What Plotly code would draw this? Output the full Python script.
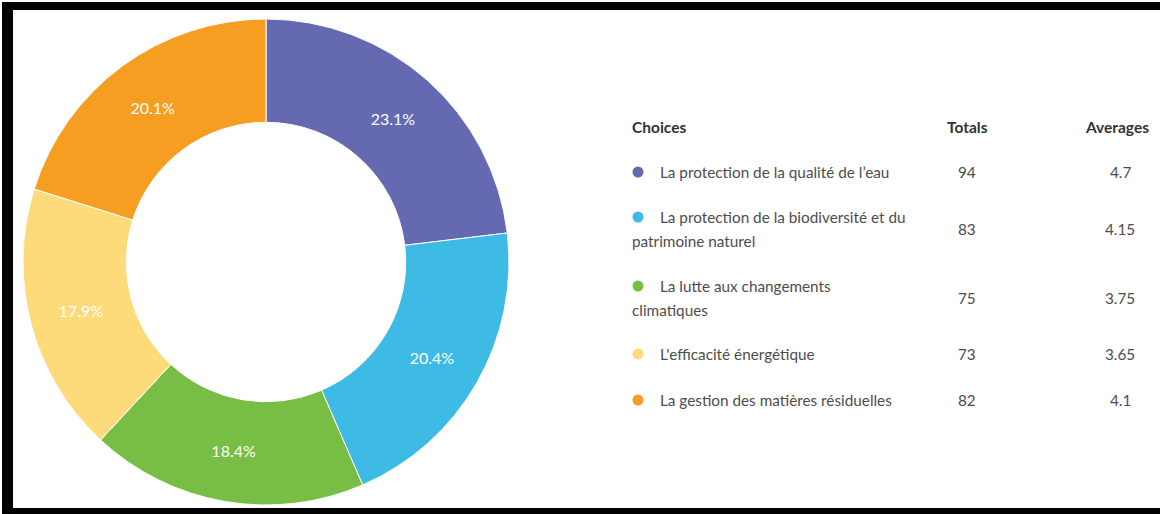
import plotly.graph_objects as go

choices = [
    "La protection de la qualité de l’eau",
    "La protection de la biodiversité et du patrimoine naturel",
    "La lutte aux changements climatiques",
    "L'efficacité énergétique",
    "La gestion des matières résiduelles",
]
choice_lines = [
    ["La protection de la qualité de l’eau"],
    ["La protection de la biodiversité et du", "patrimoine naturel"],
    ["La lutte aux changements", "climatiques"],
    ["L'efficacité énergétique"],
    ["La gestion des matières résiduelles"],
]
totals = [94, 83, 75, 73, 82]
averages = ["4.7", "4.15", "3.75", "3.65", "4.1"]
colors = ["#6469B1", "#3DBBE5", "#78BE44", "#FEDB7A", "#F59E21"]
headers = ["Choices", "Totals", "Averages"]

W, H = 1160, 514
FONT = "Lato, 'Open Sans', sans-serif"

def px(x):
    return x / W

def py(y):
    return 1 - y / H

fig = go.Figure()
fig.add_trace(go.Pie(
    labels=choices,
    values=totals,
    marker=dict(colors=colors, line=dict(color="white", width=1)),
    hole=0.575,
    sort=False,
    direction="clockwise",
    rotation=0,
    texttemplate="%{percent:.1%}",
    textposition="inside",
    insidetextorientation="horizontal",
    textfont=dict(family=FONT, size=16, color="white"),
    showlegend=False,
    hoverinfo="label+value+percent",
    domain=dict(x=[px(23), px(509)], y=[py(505), py(19)]),
))

annotations = []
shapes = []

HEAD_SIZE = 15.5
BODY_SIZE = 15.3
header_y = 127
head_font = dict(family=FONT, size=HEAD_SIZE, color="#333333")
annotations.append(dict(x=px(630), y=py(header_y), xref="paper", yref="paper",
                        text="<b>" + headers[0] + "</b>", showarrow=False,
                        xanchor="left", yanchor="middle", font=head_font))
annotations.append(dict(x=px(967), y=py(header_y), xref="paper", yref="paper",
                        text="<b>" + headers[1] + "</b>", showarrow=False,
                        xanchor="center", yanchor="middle", font=head_font))
annotations.append(dict(x=px(1117), y=py(header_y), xref="paper", yref="paper",
                        text="<b>" + headers[2] + "</b>", showarrow=False,
                        xanchor="center", yanchor="middle", font=head_font))

row_first_line_y = [172, 217, 286, 354, 400]
line_gap = 23.5
body_color = "#4d4d4d"
body_font = dict(family=FONT, size=BODY_SIZE, color=body_color)
for i, lines in enumerate(choice_lines):
    y0 = row_first_line_y[i]
    mid = y0 + line_gap * (len(lines) - 1) / 2
    r = 5.5
    shapes.append(dict(type="circle", xref="paper", yref="paper",
                       x0=px(638 - r), x1=px(638 + r),
                       y0=py(y0 + r), y1=py(y0 - r),
                       fillcolor=colors[i], line=dict(width=0)))
    for j, line in enumerate(lines):
        x = 658 if j == 0 else 630
        annotations.append(dict(x=px(x), y=py(y0 + j * line_gap), xref="paper", yref="paper",
                                text=line, showarrow=False,
                                xanchor="left", yanchor="middle", font=body_font))
    annotations.append(dict(x=px(967), y=py(mid), xref="paper", yref="paper",
                            text=str(totals[i]), showarrow=False,
                            xanchor="center", yanchor="middle", font=body_font))
    annotations.append(dict(x=px(1120), y=py(mid), xref="paper", yref="paper",
                            text=averages[i], showarrow=False,
                            xanchor="center", yanchor="middle", font=body_font))

# black frame (left, top, bottom)
for (x0, x1, y0, y1) in [(2, 13, 2, 514), (2, W, 2, 10), (2, W, 508, 514)]:
    shapes.append(dict(type="rect", xref="paper", yref="paper",
                       x0=px(x0), x1=px(x1), y0=py(y1), y1=py(y0),
                       fillcolor="black", line=dict(width=0), layer="above"))

fig.update_layout(
    width=W, height=H,
    margin=dict(l=0, r=0, t=0, b=0),
    paper_bgcolor="white",
    plot_bgcolor="white",
    annotations=annotations,
    shapes=shapes,
    font=dict(family=FONT),
)

fig.write_html("out.html",
               config={"displayModeBar": False},
               post_script="document.body.style.margin='0';document.body.style.overflow='hidden';")
